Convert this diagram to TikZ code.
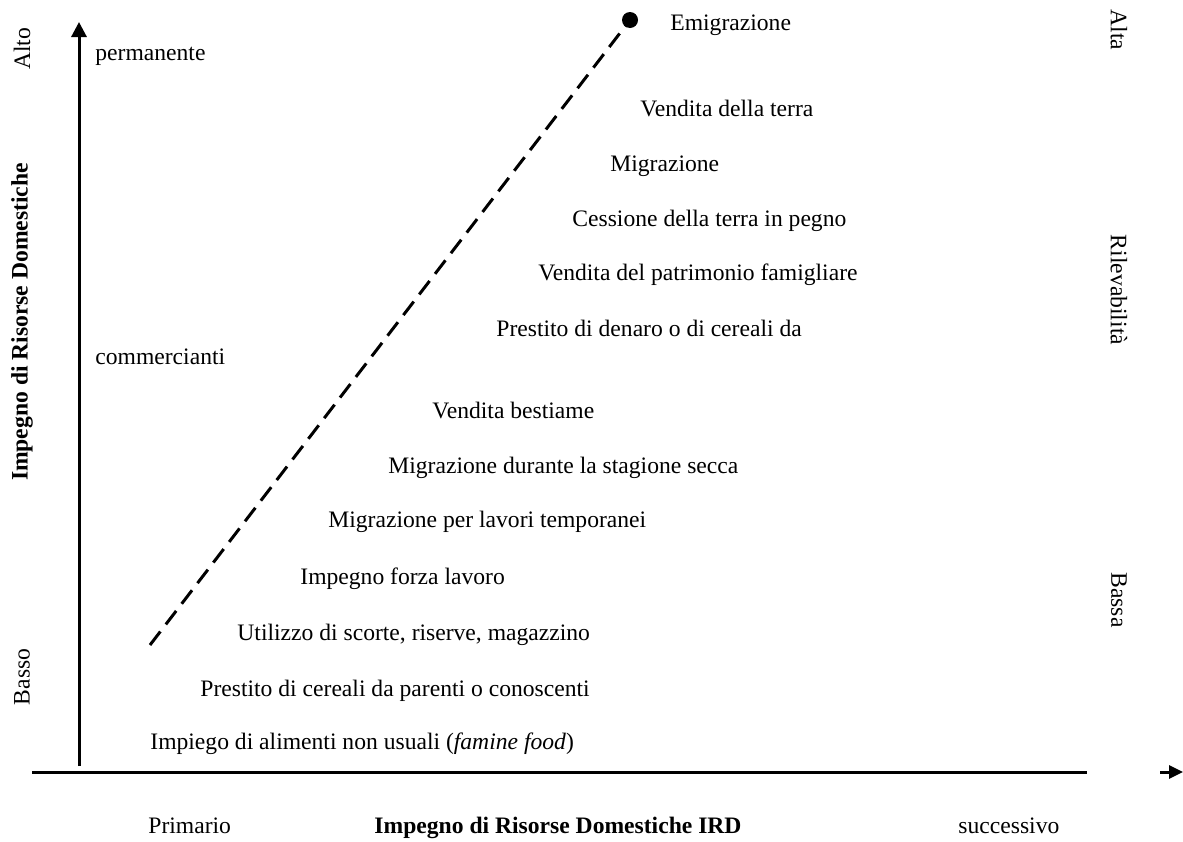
\documentclass[tikz,border=0pt]{standalone}
\usepackage{fontspec}
\setmainfont{Liberation Serif}
\usetikzlibrary{arrows.meta,positioning}
\tikzstyle{l2}=[line width=1.5]
\tikzstyle{axis}=[l2, -{Triangle[length=7.5pt,width=7.5pt]}]
\tikzstyle{trend}=[l2, dash pattern=on 8.5pt off 4.5pt]
\tikzstyle{item}=[anchor=base west, inner sep=0pt]
\tikzstyle{vtext}=[inner sep=0pt]
\tikzstyle{dot}=[circle, fill=black, inner sep=0pt, minimum size=8pt]

\begin{document}
\begin{tikzpicture}[x=0.5pt, y=-0.5pt, font=\fontsize{11.8}{14}\selectfont]
    \useasboundingbox (0,0) rectangle (1183,841);

    % axes
    \coordinate (o) at (79,766);
    \coordinate (ytop) at (79,22);
    \coordinate (xl) at (32,772);
    \coordinate (xr) at (1087,772);
    \coordinate (xa) at (1160,772);
    \coordinate (xb) at (1183,772);
    \draw[axis] (o) -- (ytop);
    \draw[l2] (xl) -- (xr);
    \draw[l2, -{Triangle[length=7pt,width=6.5pt]}] (xa) -- (xb);

    % trend line
    \coordinate (d0) at (150,645);
    \node (d1) [dot] at (630,20) {};
    \draw[trend] (d0) -- (d1.center);

    % strategies
    \node (s1) [item] at (670,30) {Emigrazione};
    \node (s2) [item] at (640,116) {Vendita della terra};
    \node (s3) [item] at (610,171) {Migrazione};
    \node (s4) [item] at (572,226) {Cessione della terra in pegno};
    \node (s5) [item] at (538,280) {Vendita del patrimonio famigliare};
    \node (s6) [item] at (496,336) {Prestito di denaro o di cereali da};
    \node (s7) [item] at (432,418) {Vendita bestiame};
    \node (s8) [item] at (388,473) {Migrazione durante la stagione secca};
    \node (s9) [item] at (328,527) {Migrazione per lavori temporanei};
    \node (s10) [item] at (300,584) {Impegno forza lavoro};
    \node (s11) [item] at (237,640) {Utilizzo di scorte, riserve, magazzino};
    \node (s12) [item] at (200,696) {Prestito di cereali da parenti o conoscenti};
    \node (s13) [item] at (150,749) {Impiego di alimenti non usuali (\textit{famine food})};
    \node (p1) [item] at (95,60) {permanente};
    \node (p2) [item] at (95,364) {commercianti};

    % x axis labels
    \node (x1) [item] at (148,833) {Primario};
    \node (x2) [vtext, anchor=base] at (558,833) {\textbf{Impegno di Risorse Domestiche IRD}};
    \node (x3) [item] at (958,833) {successivo};

    % y axis labels
    \node (y1) [vtext, rotate=90] at (22,49) {Alto};
    \node (y2) [vtext, rotate=90] at (22,322) {\textbf{Impegno di Risorse Domestiche}};
    \node (y3) [vtext, rotate=90] at (22,677) {Basso};

    % right side
    \node (r1) [vtext, rotate=-90] at (1119,30) {Alta};
    \node (r2) [vtext, rotate=-90] at (1119,290) {Rilevabilità};
    \node (r3) [vtext, rotate=-90] at (1119,600) {Bassa};
\end{tikzpicture}
\end{document}
